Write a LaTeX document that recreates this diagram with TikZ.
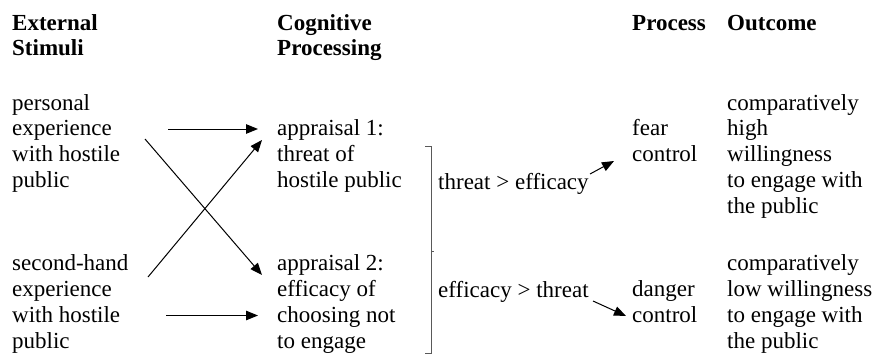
\documentclass[tikz,border=0pt]{standalone}
\usepackage{fontspec}
\setmainfont{Liberation Serif}
\usepackage{tikz}
\usetikzlibrary{arrows.meta}

\begin{document}
\begin{tikzpicture}
                [x=1pt, y=-1pt,
                 txt/.style = {anchor=base west, inner sep=0, align=left, font=\fontsize{23}{25.9}\selectfont},
                 hd/.style = {txt, font=\fontsize{23}{25.9}\selectfont\bfseries},
                 arr/.style = {-{Triangle[length=12pt,width=9.5pt]}, line width=1pt}]

                \useasboundingbox (0,0) rectangle (875,356);

                % column heads (placed at the baseline of their last line)
                \node[hd] (hstim) at (12,55.9) {External\\Stimuli};
                \node[hd] (hcog) at (277,55.9) {Cognitive\\Processing};
                \node[hd] (hproc) at (632,30) {Process};
                \node[hd] (hout) at (727,30) {Outcome};

                \node[txt] (pers) at (12,187.7) {personal\\experience\\with hostile\\public};
                \node[txt] (second) at (12,348.5) {second-hand\\experience\\with hostile\\public};
                \node[txt] (apr1) at (277,187.7) {appraisal 1:\\threat of\\hostile public};
                \node[txt] (apr2) at (277,348.5) {appraisal 2:\\efficacy of\\choosing not\\to engage};
                \node[txt] (te) at (438,189) {threat > efficacy};
                \node[txt] (et) at (438,297) {efficacy > threat};
                \node[txt] (fear) at (632,161.8) {fear\\control};
                \node[txt] (danger) at (632,322.6) {danger\\control};
                \node[txt] (high) at (727,213.6) {comparatively\\high\\willingness\\to engage with\\the public};
                \node[txt] (low) at (727,348.5) {comparatively\\low willingness\\to engage with\\the public};

                % arrow ends
                \coordinate (pers1) at (168,129);
                \coordinate (apr1a) at (258,129);
                \coordinate (pers2) at (145,139);
                \coordinate (apr2a) at (262,275);
                \coordinate (second1) at (148,277);
                \coordinate (apr1b) at (262,140);
                \coordinate (second2) at (166,315.5);
                \coordinate (apr2b) at (258,315.5);
                \coordinate (te1) at (590,174);
                \coordinate (fear1) at (614,161);
                \coordinate (et1) at (593,301);
                \coordinate (danger1) at (626,316);

                \draw[arr] (pers1) -- (apr1a);
                \draw[arr] (pers2) -- (apr2a);
                \draw[arr] (second1) -- (apr1b);
                \draw[arr] (second2) -- (apr2b);
                \draw[arr] (te1) -- (fear1);
                \draw[arr] (et1) -- (danger1);

                % bracket
                \draw[gray!70!black, line width=1pt] (425,146) -- (431,146) -- (431,353) -- (425,353);
                \draw[gray!70!black, line width=1pt] (431,251) -- (434,251);
            \end{tikzpicture}
\end{document}
